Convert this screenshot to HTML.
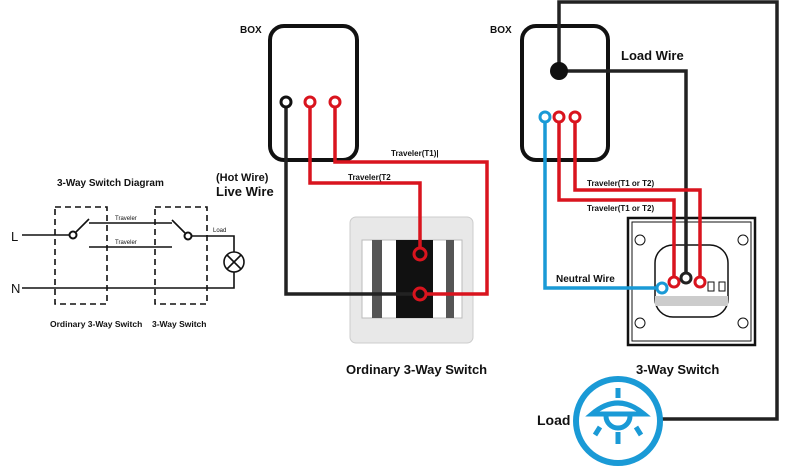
<!DOCTYPE html>
<html><head><meta charset="utf-8"><style>
html,body{margin:0;padding:0;background:#fff;}
svg{display:block;font-family:"Liberation Sans",sans-serif;}
.b{font-weight:bold;fill:#111;}
</style></head><body>
<svg width="790" height="469" viewBox="0 0 790 469">
<!-- Left schematic -->
<text x="57" y="186" class="b" font-size="10">3-Way Switch Diagram</text>
<g fill="none" stroke="#111" stroke-width="1.6">
<rect x="55" y="207" width="52" height="97" stroke-dasharray="6,4"/>
<rect x="155" y="207" width="52" height="97" stroke-dasharray="6,4"/>
<line x1="22" y1="235" x2="69" y2="235"/>
<circle cx="73" cy="235" r="3.5" stroke-width="2"/>
<line x1="76" y1="232" x2="89" y2="219"/>
<line x1="89" y1="223" x2="172" y2="223"/>
<line x1="89" y1="247" x2="172" y2="247"/>
<line x1="172" y1="220" x2="185" y2="233"/>
<circle cx="188" cy="236" r="3.5" stroke-width="2"/>
<polyline points="192,236 234,236 234,252"/>
<circle cx="234" cy="262" r="10"/>
<line x1="227" y1="255" x2="241" y2="269"/><line x1="241" y1="255" x2="227" y2="269"/>
<polyline points="234,272 234,288 22,288"/>
</g>
<text x="11" y="241" font-size="13" fill="#111">L</text>
<text x="11" y="293" font-size="13" fill="#111">N</text>
<text x="115" y="220" font-size="6" fill="#111">Traveler</text>
<text x="115" y="244" font-size="6" fill="#111">Traveler</text>
<text x="213" y="232" font-size="6" fill="#111">Load</text>
<text x="50" y="327" class="b" font-size="8.5">Ordinary 3-Way Switch</text>
<text x="152" y="327" class="b" font-size="8.5">3-Way Switch</text>
<text x="216" y="181" class="b" font-size="11">(Hot Wire)</text>
<text x="216" y="196" class="b" font-size="13">Live  Wire</text>

<!-- Middle -->
<text x="240" y="33" class="b" font-size="10">BOX</text>
<rect x="270" y="26" width="87" height="134" rx="14" fill="none" stroke="#111" stroke-width="4"/>
<rect x="350" y="217" width="123" height="126" rx="6" fill="#e8e8e8" stroke="#ccc"/>
<rect x="362" y="240" width="100" height="78" fill="#fff" stroke="#bbb"/>
<rect x="372" y="240" width="10" height="78" fill="#555"/>
<rect x="446" y="240" width="8" height="78" fill="#555"/>
<rect x="396" y="240" width="37" height="78" fill="#111"/>
<g fill="none" stroke-width="3.5">
<polyline stroke="#222" points="286,102 286,294 413,294"/>
<polyline stroke="#d9141e" points="310,102 310,183 420,183 420,248"/>
<polyline stroke="#d9141e" points="335,102 335,162 487,162 487,294 426,294"/>
</g>
<circle cx="286" cy="102" r="5" fill="#fff" stroke="#111" stroke-width="3"/>
<circle cx="310" cy="102" r="5" fill="#fff" stroke="#d9141e" stroke-width="3"/>
<circle cx="335" cy="102" r="5" fill="#fff" stroke="#d9141e" stroke-width="3"/>
<circle cx="420" cy="254" r="6" fill="#111" stroke="#d9141e" stroke-width="3"/>
<circle cx="420" cy="294" r="6" fill="#111" stroke="#d9141e" stroke-width="3"/>
<text x="391" y="156" class="b" font-size="8">Traveler(T1)|</text>
<text x="348" y="180" class="b" font-size="8">Traveler(T2</text>
<text x="346" y="374" class="b" font-size="13">Ordinary 3-Way Switch</text>

<!-- Right -->
<text x="490" y="33" class="b" font-size="10">BOX</text>
<rect x="522" y="26" width="86" height="134" rx="14" fill="none" stroke="#111" stroke-width="4"/>
<rect x="628" y="218" width="127" height="127" fill="#fff" stroke="#111" stroke-width="2.5"/>
<rect x="632" y="222" width="119" height="119" fill="none" stroke="#111" stroke-width="1"/>
<rect x="655" y="245" width="73" height="72" rx="18" fill="none" stroke="#111" stroke-width="1.5"/>
<rect x="655" y="296" width="73" height="10" fill="#ccc"/>
<circle cx="640" cy="240" r="5" fill="none" stroke="#111"/><circle cx="743" cy="240" r="5" fill="none" stroke="#111"/>
<circle cx="640" cy="323" r="5" fill="none" stroke="#111"/><circle cx="743" cy="323" r="5" fill="none" stroke="#111"/>
<rect x="708" y="282" width="6" height="9" fill="none" stroke="#111"/><rect x="719" y="282" width="6" height="9" fill="none" stroke="#111"/>
<g fill="none" stroke-width="3.5">
<polyline stroke="#222" points="559,71 559,2 777,2 777,419 660,419"/>
<polyline stroke="#222" points="559,71 686,71 686,276"/>
<polyline stroke="#1a9ad6" points="545,117 545,288 660,288"/>
<polyline stroke="#d9141e" points="559,117 559,200 674,200 674,280"/>
<polyline stroke="#d9141e" points="575,117 575,190 700,190 700,280"/>
</g>
<circle cx="559" cy="71" r="9" fill="#111"/>
<circle cx="545" cy="117" r="5" fill="#fff" stroke="#1a9ad6" stroke-width="3"/>
<circle cx="559" cy="117" r="5" fill="#fff" stroke="#d9141e" stroke-width="3"/>
<circle cx="575" cy="117" r="5" fill="#fff" stroke="#d9141e" stroke-width="3"/>
<circle cx="662" cy="288" r="5" fill="#fff" stroke="#1a9ad6" stroke-width="3"/>
<circle cx="674" cy="282" r="5" fill="#fff" stroke="#d9141e" stroke-width="3"/>
<circle cx="686" cy="278" r="5" fill="#fff" stroke="#222" stroke-width="3"/>
<circle cx="700" cy="282" r="5" fill="#fff" stroke="#d9141e" stroke-width="3"/>
<text x="621" y="60" class="b" font-size="13">Load Wire</text>
<text x="587" y="186" class="b" font-size="8">Traveler(T1 or T2)</text>
<text x="587" y="211" class="b" font-size="8">Traveler(T1 or T2)</text>
<text x="556" y="282" class="b" font-size="10">Neutral Wire</text>
<text x="636" y="374" class="b" font-size="13">3-Way Switch</text>
<text x="537" y="425" class="b" font-size="14">Load</text>
<g fill="none" stroke="#1a9ad6" stroke-width="6">
<circle cx="618" cy="421" r="42"/>
</g>
<g fill="none" stroke="#1a9ad6" stroke-width="5">
<path d="M592,414 Q618,392 644,414 Z"/>
<line x1="618" y1="388" x2="618" y2="398"/>
<path d="M606,416 A12,12 0 0 0 630,416"/>
<line x1="618" y1="432" x2="618" y2="444"/>
<line x1="600" y1="427" x2="595" y2="435"/>
<line x1="636" y1="427" x2="641" y2="435"/>
</g>
</svg>
</body></html>
